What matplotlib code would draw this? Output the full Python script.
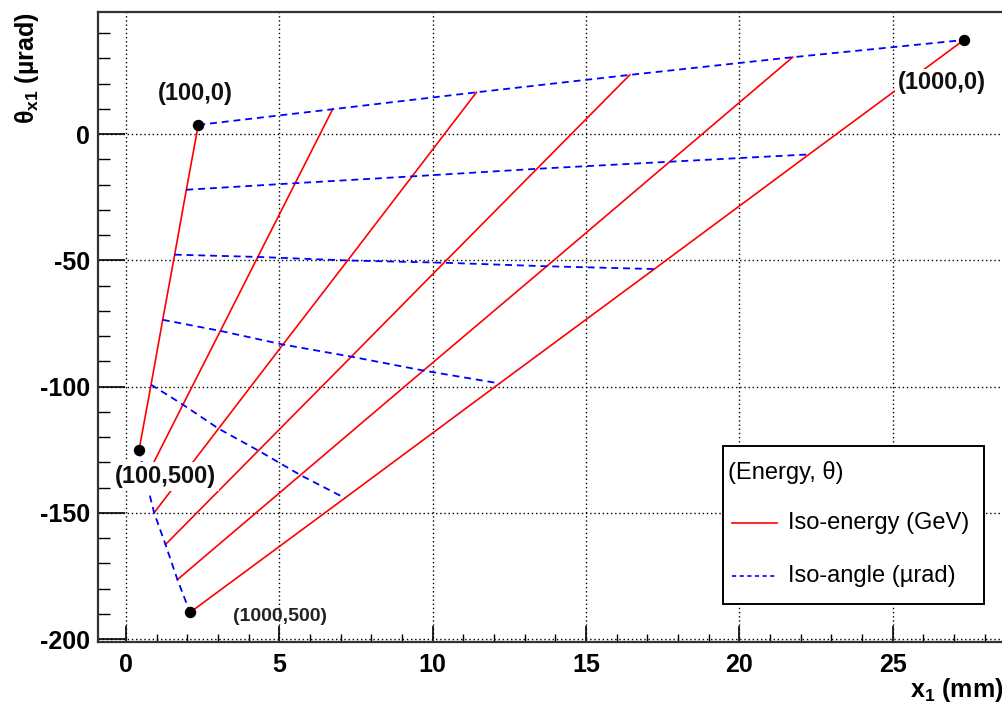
import matplotlib
matplotlib.use("Agg")
import matplotlib.pyplot as plt
from matplotlib.lines import Line2D
from matplotlib.patches import Rectangle
from matplotlib.ticker import MultipleLocator

plt.rcParams["font.family"] = ["Liberation Sans", "DejaVu Sans"]
plt.rcParams["axes.unicode_minus"] = False
plt.rcParams["mathtext.fontset"] = "custom"
plt.rcParams["mathtext.rm"] = "Liberation Sans"
plt.rcParams["mathtext.bf"] = "Liberation Sans:bold"
plt.rcParams["mathtext.it"] = "Liberation Sans:italic"
plt.rcParams["lines.scale_dashes"] = False

# grid of beam energy (GeV) x angle (urad)
energies = [100, 280, 460, 640, 820, 1000]
angles = [0, 100, 200, 300, 400, 500]

# x1 in mm: one row per energy, one column per angle
x1 = [
    [2.36, 1.97, 1.59, 1.20, 0.82, 0.43],
    [6.74, 5.52, 4.30, 3.08, 1.86, 0.64],
    [11.43, 9.33, 7.23, 5.12, 3.02, 0.92],
    [16.43, 13.40, 10.37, 7.35, 4.32, 1.29],
    [21.74, 17.73, 13.72, 9.70, 5.69, 1.68],
    [27.32, 22.27, 17.23, 12.18, 7.14, 2.09],
]
# theta_x1 in urad, same layout
theta = [
    [3.7, -22.0, -47.7, -73.5, -99.2, -124.9],
    [9.9, -19.4, -48.6, -77.9, -107.1, -136.4],
    [16.6, -16.7, -50.0, -83.3, -116.6, -149.9],
    [23.5, -13.7, -50.9, -88.1, -125.3, -162.5],
    [30.5, -10.9, -52.3, -93.6, -135.0, -176.4],
    [37.3, -8.0, -53.4, -98.7, -144.1, -189.4],
]

W, H = 1003, 707


def fpx(x, y):
    # pixel -> figure fraction
    return x / W, 1 - y / H


fig = plt.figure(figsize=(W / 100, H / 100), dpi=100)
fig.patch.set_facecolor("white")
ax = fig.add_axes([98 / W, 1 - 642 / H, (1008 - 98) / W, (642 - 12) / H])
ax.set_xlim(-0.91, 28.76)
ax.set_ylim(-201.1, 48.4)

# iso-energy lines (red) and iso-angle lines (blue dashed)
for i, e in enumerate(energies):
    ax.plot(x1[i], theta[i], color="#ff0000", lw=1.2, zorder=3)
for j, a in enumerate(angles):
    xs = [x1[i][j] for i in range(len(energies))]
    ys = [theta[i][j] for i in range(len(energies))]
    ax.plot(xs, ys, color="#0000ff", lw=1.3, dashes=(5, 3.5), zorder=3)

# corner points
corners = [(0, 0), (len(energies) - 1, 0), (0, len(angles) - 1),
           (len(energies) - 1, len(angles) - 1)]
ax.plot([x1[i][j] for i, j in corners], [theta[i][j] for i, j in corners],
        "o", color="black", ms=7.2, zorder=5, ls="none")

box = dict(boxstyle="square,pad=0.12", fc="white", ec="none")
ax.text(2.25, 16.3, f"({energies[0]},{angles[0]})", fontsize=17, fontweight="bold",
        ha="center", va="center", color="#111111", zorder=6)
ax.text(26.6, 20.3, f"({energies[-1]},{angles[0]})", fontsize=17, fontweight="bold",
        ha="center", va="center", color="#111111", zorder=6, bbox=box)
ax.text(1.29, -135.5, f"({energies[0]},{angles[-1]})", fontsize=17, fontweight="bold",
        ha="center", va="center", color="#111111", zorder=6, bbox=box)
ax.text(5.02, -190.9, f"({energies[-1]},{angles[-1]})", fontsize=14, fontweight="bold",
        ha="center", va="center", color="#222222", zorder=6)

# ROOT-like frame, ticks and grid
ax.xaxis.set_major_locator(MultipleLocator(5))
ax.xaxis.set_minor_locator(MultipleLocator(1))
ax.yaxis.set_major_locator(MultipleLocator(50))
ax.yaxis.set_minor_locator(MultipleLocator(10))
ax.grid(True, which="major", color="black", lw=1.0, ls=(0, (1, 2)), zorder=1)
ax.tick_params(axis="x", which="major", direction="in", length=11.5, width=1.2,
               pad=8, labelsize=18, top=False)
ax.tick_params(axis="x", which="minor", direction="in", length=5.8, width=1.0, top=False)
ax.tick_params(axis="y", which="major", direction="in", length=19.5, width=1.2,
               pad=6, labelsize=18, right=False)
ax.tick_params(axis="y", which="minor", direction="in", length=8.6, width=1.0, right=False)
for lab in ax.get_xticklabels() + ax.get_yticklabels():
    lab.set_fontweight("bold")
for s in ax.spines.values():
    s.set_linewidth(1.6)
    s.set_color("#333333")

# axis titles
fig.text(*fpx(27, 12), r"θ$_{\mathbf{x1}}$ (µrad)", rotation=90, ha="center", va="top",
         fontsize=18, fontweight="bold")
fig.text(*fpx(1003, 690), r"x$_{\mathbf{1}}$ (mm)", ha="right", va="center",
         fontsize=18, fontweight="bold")

# legend box
fig.add_artist(Rectangle(fpx(723, 604), 261 / W, 158 / H, transform=fig.transFigure,
                         fc="white", ec="black", lw=1.4, zorder=4))
fig.text(*fpx(728, 472), "(Energy, θ)", fontsize=17, ha="left", va="center", zorder=5)
fig.add_artist(Line2D([732 / W, 777 / W], [1 - 523 / H] * 2, transform=fig.transFigure,
                      color="#ff0000", lw=1.2, zorder=5))
fig.text(*fpx(788, 523), "Iso-energy (GeV)", fontsize=17, ha="left", va="center", zorder=5)
fig.add_artist(Line2D([732 / W, 777 / W], [1 - 576 / H] * 2, transform=fig.transFigure,
                      color="#0000ff", lw=1.2, dashes=(3, 2.5), zorder=5))
fig.text(*fpx(788, 576), "Iso-angle (µrad)", fontsize=17, ha="left", va="center", zorder=5)

fig.savefig("out.png", dpi=100)
